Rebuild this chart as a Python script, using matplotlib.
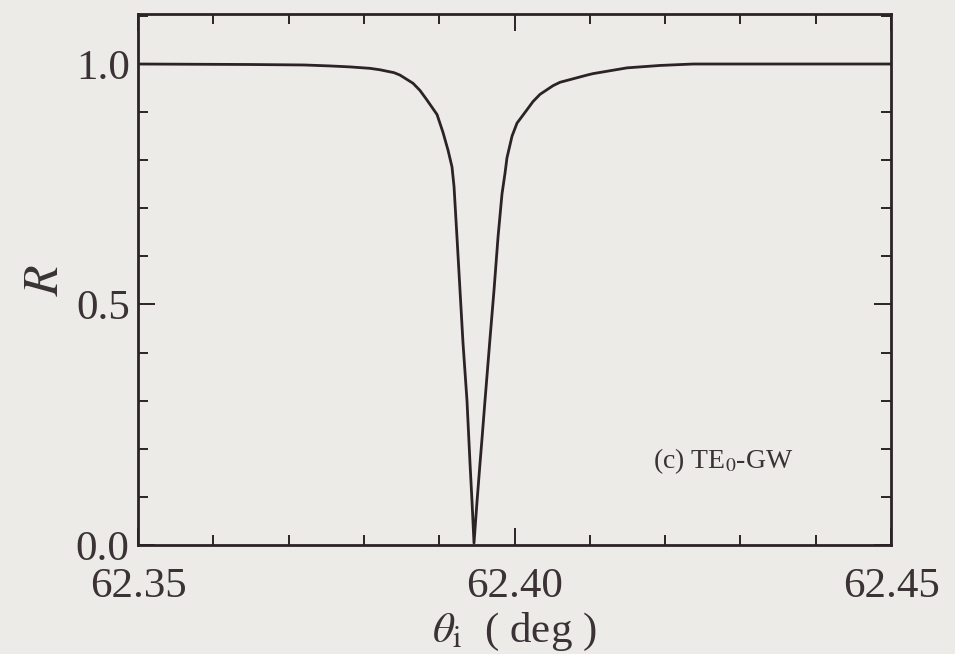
import matplotlib.pyplot as plt
from matplotlib.ticker import MultipleLocator

plt.rcParams['font.family'] = 'serif'
plt.rcParams['font.serif'] = ['Liberation Serif', 'DejaVu Serif']
plt.rcParams['mathtext.fontset'] = 'stix'

# reflectance R versus incidence angle (deg), read along the resonance dip
theta = [62.35000, 62.36487, 62.37205, 62.37550, 62.37815, 62.38081,
         62.38214, 62.38400, 62.38479, 62.38652, 62.38745, 62.38838,
         62.38971, 62.39050, 62.39117, 62.39170, 62.39197, 62.39236,
         62.39276, 62.39316, 62.39369, 62.39409, 62.39436, 62.39462,
         62.39502, 62.39542, 62.39568, 62.39608, 62.39675, 62.39728,
         62.39781, 62.39834, 62.39874, 62.39900, 62.39967, 62.40033,
         62.40166, 62.40246, 62.40339, 62.40512, 62.40604, 62.40963,
         62.41042, 62.41494, 62.41932, 62.42371, 62.43260, 62.45000]
refl = [1.000, 0.999, 0.998, 0.996, 0.994, 0.991,
        0.988, 0.982, 0.977, 0.960, 0.945, 0.925,
        0.895, 0.858, 0.821, 0.786, 0.745, 0.640,
        0.530, 0.420, 0.300, 0.170, 0.090, 0.004,
        0.090, 0.170, 0.220, 0.300, 0.430, 0.530,
        0.640, 0.730, 0.773, 0.805, 0.850, 0.877,
        0.905, 0.922, 0.937, 0.955, 0.962, 0.977,
        0.980, 0.992, 0.997, 1.000, 1.000, 1.000]

x_ticks = [62.35, 62.40, 62.45]
x_labels = ['62.35', '62.40', '62.45']
y_ticks = [0.0, 0.5, 1.0]
y_labels = ['0.0', '0.5', '1.0']

bg = '#ecebe8'
ink = '#2b2326'
txt = '#3a3235'

fig = plt.figure(figsize=(9.55, 6.54), dpi=100, facecolor=bg)
ax = fig.add_axes([0.1445, 0.1667, 0.7885, 0.8119], facecolor=bg)

ax.plot(theta, refl, color=ink, linewidth=2.0, solid_joinstyle='round')

ax.set_xlim(62.35, 62.45)
ax.set_ylim(0.0, 1.104)
ax.set_xticks(x_ticks)
ax.set_xticklabels(x_labels)
ax.set_yticks(y_ticks)
ax.set_yticklabels(y_labels)
ax.xaxis.set_minor_locator(MultipleLocator(0.01))
ax.yaxis.set_minor_locator(MultipleLocator(0.1))

ax.tick_params(which='both', direction='in', top=True, right=True,
               color=ink, width=1.4, labelcolor=txt, labelsize=31)
ax.tick_params(which='major', length=12)
ax.tick_params(which='minor', length=7)
ax.tick_params(axis='x', pad=16)
ax.tick_params(axis='y', pad=6)

for s in ax.spines.values():
    s.set_linewidth(2.0)
    s.set_color(ink)

ax.set_ylabel(r'$R$', fontsize=36, color=txt, labelpad=5)
ax.set_xlabel(r'$\theta_{\mathrm{i}}$  ( deg )', fontsize=31, color=txt,
              labelpad=4)

ax.text(62.4184, 0.16, r'(c) TE$_0$-GW', fontsize=20, color=txt,
        ha='left', va='baseline')

fig.savefig('out.png', dpi=100, facecolor=bg)
